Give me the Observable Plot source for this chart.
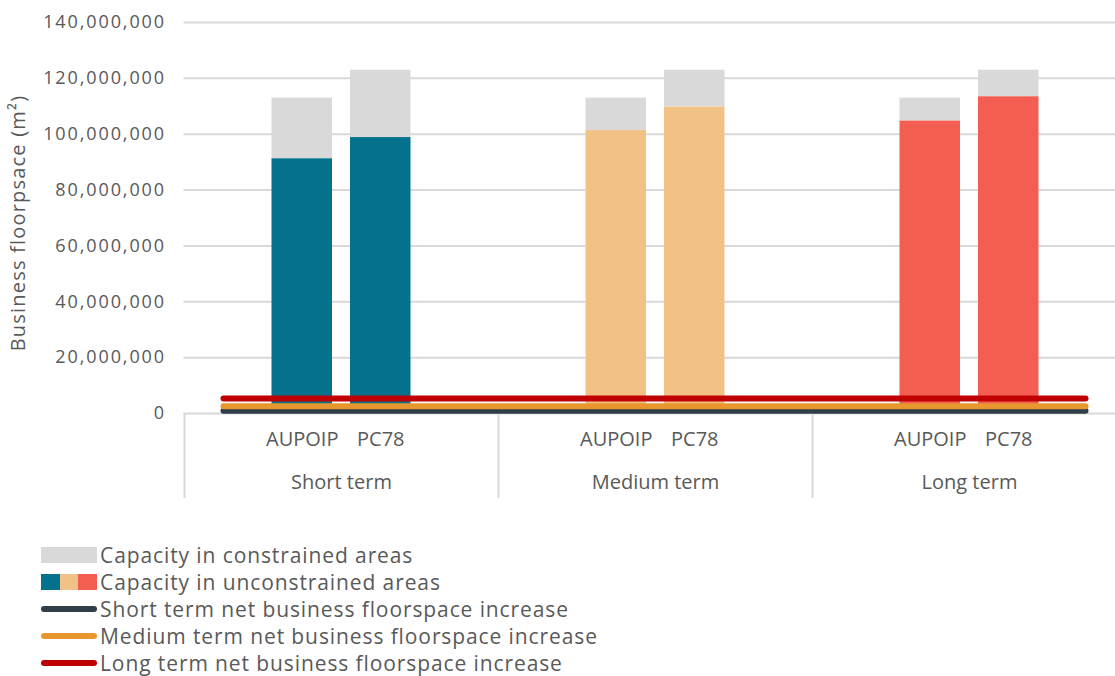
<!DOCTYPE html>
<html>
<head>
<meta charset="utf-8">
<script src="https://cdn.jsdelivr.net/npm/d3@7"></script>
<script src="https://cdn.jsdelivr.net/npm/@observablehq/plot@0.6"></script>
<style>
  html, body { margin: 0; padding: 0; background: #fff; overflow: hidden; }
  body { width: 1115px; height: 676px; font-family: "Open Sans", sans-serif; color: #595959; }
  #chart svg { display: block; overflow: visible; }
  #chart g[aria-label="y-axis tick label"] text { letter-spacing: 1.9px; }
  #chart .ytitle text { letter-spacing: 1.2px; }
  .legend { margin-top: 41px; padding-left: 41px; }
  .legend .row { display: flex; align-items: center; height: 27px; font-size: 21px; letter-spacing: 0.9px; color: #595959; }
  .legend .sw { width: 56px; margin-right: 3px; flex: none; display: flex; align-items: center; }
  .legend .box { height: 16px; }
  .legend .ln { height: 6px; border-radius: 3px; width: 56px; }
</style>
</head>
<body>
<div id="chart"></div>
<div class="legend" id="legend"></div>
<script>
// Planning horizons and the two plans compared within each
const terms = ["Short term", "Medium term", "Long term"];
const plans = ["AUPOIP", "PC78"];

// Business floorspace capacity (m²)
const aupoipUnconstrained = [91200000, 101300000, 104700000];
const aupoipTotal = [112900000, 112900000, 112900000];
const pc78Unconstrained = [98800000, 109700000, 113400000];
const pc78Total = [122900000, 122900000, 122900000];

// Net business floorspace increase for each horizon (m²)
const netIncrease = [1000000, 2600000, 5400000];
const netIncreaseLabels = [
  "Short term net business floorspace increase",
  "Medium term net business floorspace increase",
  "Long term net business floorspace increase"
];

const yTicks = [0, 20000000, 40000000, 60000000, 80000000, 100000000, 120000000, 140000000];

const termColors = ["#05728D", "#F2C185", "#F45E52"];
const lineColors = ["#2F3E48", "#E8972F", "#C00000"];
const constrainedColor = "#D9D9D9";
const textColor = "#595959";

const rows = [];
terms.forEach((term, i) => {
  rows.push({term, plan: "AUPOIP", unconstrained: aupoipUnconstrained[i], total: aupoipTotal[i], color: termColors[i]});
  rows.push({term, plan: "PC78", unconstrained: pc78Unconstrained[i], total: pc78Total[i], color: termColors[i]});
});
const lines = netIncrease.map((v, i) => ({value: v, color: lineColors[i], label: netIncreaseLabels[i]}));

// Each term occupies one band; the two plan bars sit either side of its centre
const barWidth = 60.5;
const barGap = 78.5;
const bandWidth = 314;
const side = plan => (plan === "AUPOIP" ? -1 : 1);
const insetL = plan => bandWidth / 2 + side(plan) * barGap / 2 - barWidth / 2;
const insetR = plan => bandWidth - insetL(plan) - barWidth;

function barsFor(plan, y1, y2, fill) {
  return Plot.barY(rows.filter(d => d.plan === plan), {
    x: "term", y1, y2, fill,
    insetLeft: insetL(plan), insetRight: insetR(plan)
  });
}

const chart = Plot.plot({
  width: 1115,
  height: 500,
  marginTop: 22,
  marginBottom: 87,
  marginLeft: 183.5,
  marginRight: 0,
  style: {fontFamily: "'Open Sans', sans-serif", color: textColor, background: "transparent"},
  x: {type: "band", domain: terms, range: [183.5, 183.5 + 3 * bandWidth], padding: 0, axis: null},
  y: {domain: [0, 140000000], axis: null},
  marks: [
    Plot.gridY(yTicks, {stroke: "#D9D9D9", strokeOpacity: 1, strokeWidth: 2}),
    Plot.axisY(yTicks, {
      tickSize: 0, tickPadding: 18, fontSize: 18, tickFormat: d3.format(","),
      label: null, fill: textColor
    }),
    Plot.text(["Business floorpsace (m²)"], {
      frameAnchor: "left", textAnchor: "middle", dx: -165, dy: 5, rotate: -90,
      fontSize: 20, fill: textColor, className: "ytitle"
    }),
    // constrained capacity on top of unconstrained capacity
    ...plans.map(p => barsFor(p, "unconstrained", "total", constrainedColor)),
    ...plans.map(p => barsFor(p, 0, "unconstrained", d => d.color)),
    // category separators under the axis
    Plot.ruleX(terms, {x: d => d, y1: 0, y2: 0, dx: -bandWidth / 2, insetBottom: -85, stroke: "#D9D9D9", strokeWidth: 2}),
    // net increase lines across all horizons
    Plot.ruleY(lines, {
      y: "value", x1: () => terms[0], x2: () => terms[terms.length - 1],
      insetLeft: 39.5, insetRight: 40.5,
      stroke: "color", strokeWidth: 6, strokeLinecap: "round"
    }),
    // plan labels and term labels
    ...plans.map(p => Plot.text(terms, {
      x: d => d, text: () => p, frameAnchor: "bottom",
      dx: side(p) * barGap / 2, dy: 32, fontSize: 20, fill: textColor
    })),
    Plot.text(terms, {x: d => d, text: d => d, frameAnchor: "bottom", dy: 75, fontSize: 20, fill: textColor})
  ]
});
document.getElementById("chart").appendChild(chart);

// Legend
const legend = document.getElementById("legend");
const addRow = (swatchHtml, label) => {
  const row = document.createElement("div");
  row.className = "row";
  row.innerHTML = `<div class="sw">${swatchHtml}</div><span>${label}</span>`;
  legend.appendChild(row);
};
addRow(`<div class="box" style="width:56px;background:${constrainedColor}"></div>`, "Capacity in constrained areas");
addRow(termColors.map(c => `<div class="box" style="width:18.67px;background:${c}"></div>`).join(""), "Capacity in unconstrained areas");
lines.forEach(l => addRow(`<div class="ln" style="background:${l.color}"></div>`, l.label));
</script>
</body>
</html>
